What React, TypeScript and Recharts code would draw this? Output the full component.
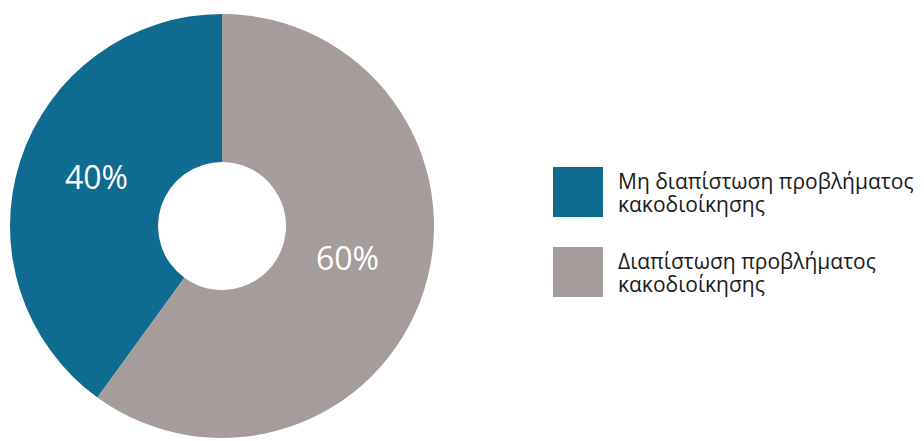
import { PieChart, Pie, Cell, Legend } from "recharts";

const categories = ["Μη διαπίστωση προβλήματος κακοδιοίκησης", "Διαπίστωση προβλήματος κακοδιοίκησης"];
const shares = [40, 60];
const colors = ["#0F6B8F", "#A59C9B"];

const data = categories.map((name, i) => ({ name, value: shares[i] }));

const RADIAN = Math.PI / 180;

function renderLabel(props: any) {
  const { cx, cy, midAngle, value } = props;
  const r = 132;
  const x = cx + r * Math.cos(-midAngle * RADIAN);
  const y = cy + r * Math.sin(-midAngle * RADIAN) - 9;
  return (
    <text x={x} y={y} fill="#fff" textAnchor="middle" dominantBaseline="central"
      style={{ fontFamily: "'Open Sans', sans-serif", fontSize: 32 }}>
      {value}%
    </text>
  );
}

function LegendBox() {
  return (
    <div>
      {data.map((entry, index) => (
        <div key={`item-${index}`} style={{ display: "flex", alignItems: "flex-start", marginBottom: 30 }}>
          <div style={{ width: 50, height: 50, background: colors[index], flexShrink: 0 }} />
          <div style={{ marginLeft: 15, marginTop: 3, width: 307, fontFamily: "'Open Sans', sans-serif",
            fontSize: 21, lineHeight: "23px", color: "#1a1a1a" }}>
            {entry.name}
          </div>
        </div>
      ))}
    </div>
  );
}

function App() {
  return (
    <div>
      <style>{`body{margin:0}`}</style>
      <PieChart width={924} height={441} margin={{ top: 0, right: 0, bottom: 0, left: 0 }}>
        <Pie
          data={data}
          dataKey="value"
          nameKey="name"
          cx={222}
          cy={226}
          innerRadius={64}
          outerRadius={212}
          startAngle={90}
          endAngle={450}
          stroke="none"
          labelLine={false}
          label={renderLabel}
          isAnimationActive={false}
        >
          {data.map((entry, index) => (
            <Cell key={`cell-${index}`} fill={colors[index]} />
          ))}
        </Pie>
        <Legend
          content={<LegendBox />}
          wrapperStyle={{ position: "absolute", left: 553, top: 167, width: 372 }}
        />
      </PieChart>
    </div>
  );
}

export default App;
